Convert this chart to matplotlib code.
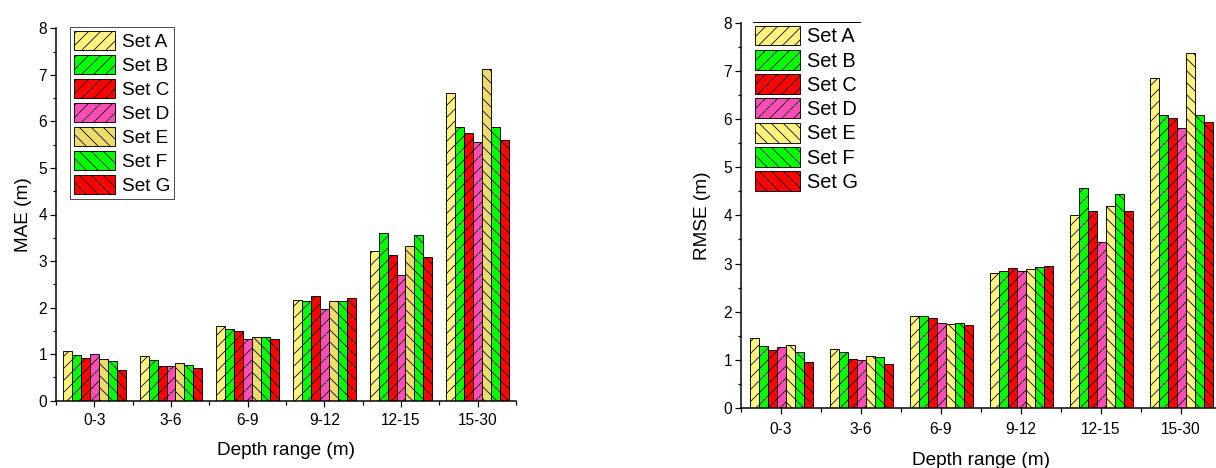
import matplotlib
matplotlib.use("Agg")
import matplotlib.pyplot as plt
import numpy as np
from matplotlib.lines import Line2D

plt.rcParams['font.family'] = ['Liberation Sans', 'DejaVu Sans']
plt.rcParams['hatch.linewidth'] = 0.8

categories = ["0-3", "3-6", "6-9", "9-12", "12-15", "15-30"]
set_names = ["Set A", "Set B", "Set C", "Set D", "Set E", "Set F", "Set G"]

mae = {
    "Set A": [1.06, 0.96, 1.60, 2.16, 3.22, 6.60],
    "Set B": [0.98, 0.87, 1.55, 2.14, 3.61, 5.88],
    "Set C": [0.92, 0.75, 1.50, 2.24, 3.12, 5.76],
    "Set D": [1.01, 0.74, 1.32, 1.98, 2.71, 5.55],
    "Set E": [0.90, 0.80, 1.37, 2.14, 3.33, 7.13],
    "Set F": [0.85, 0.77, 1.37, 2.14, 3.55, 5.87],
    "Set G": [0.67, 0.70, 1.33, 2.21, 3.09, 5.61],
}
rmse = {
    "Set A": [1.45, 1.22, 1.92, 2.81, 4.01, 6.86],
    "Set B": [1.29, 1.16, 1.90, 2.84, 4.57, 6.09],
    "Set C": [1.20, 1.01, 1.86, 2.90, 4.08, 6.02],
    "Set D": [1.27, 1.00, 1.77, 2.84, 3.45, 5.82],
    "Set E": [1.30, 1.07, 1.75, 2.88, 4.20, 7.38],
    "Set F": [1.17, 1.05, 1.77, 2.93, 4.44, 6.09],
    "Set G": [0.95, 0.92, 1.72, 2.95, 4.08, 5.94],
}

colors_left = ["#FFF37E", "#00FF00", "#FF0000", "#FF4DB8", "#EEDC6A", "#00FF00", "#FF0000"]
colors_right = ["#FFF37E", "#00FF00", "#FF0000", "#FF4DB8", "#FFF37E", "#00FF00", "#FF0000"]
hatches = ["//", "//", "//", "//", "\\\\", "\\\\", "\\\\"]

DPI = 72
fig = plt.figure(figsize=(1216 / DPI, 468 / DPI), dpi=DPI)

W, H = 1216, 468
def rect(x0, y_top, x1, y_bot):
    return [x0 / W, (H - y_bot) / H, (x1 - x0) / W, (y_bot - y_top) / H]

ax1 = fig.add_axes(rect(56, 28.3, 516, 400.7))
ax2 = fig.add_axes(rect(741, 22.7, 1221, 408))


def draw(ax, data, colors, ylabel, bw, legfs, handlelen, handleh, lspace, legx, tpad):
    x = np.arange(len(categories))
    n = len(set_names)
    for i, name in enumerate(set_names):
        off = (i - (n - 1) / 2) * bw
        ax.bar(x + off, data[name], width=bw, color=colors[i], edgecolor="black",
               linewidth=0.9, hatch=hatches[i], label=name, zorder=2)
    ax.set_xlim(-0.5, len(categories) - 0.5)
    ax.set_ylim(0, 8)
    ax.set_xticks(x)
    ax.set_xticklabels(categories, fontsize=15.5)
    ax.set_xticks(np.arange(-0.5, len(categories), 1.0), minor=True)
    ax.set_yticks(np.arange(0, 9, 1))
    ax.set_yticklabels([str(v) for v in range(9)], fontsize=15.5)
    ax.set_yticks(np.arange(0.5, 8, 1.0), minor=True)
    ax.tick_params(axis="both", which="major", direction="out", length=6, width=1.2, pad=3)
    ax.tick_params(axis="x", which="major", pad=tpad)
    ax.tick_params(axis="both", which="minor", direction="out", length=3.5, width=1.2)
    for s in ["top", "right"]:
        ax.spines[s].set_visible(False)
    for s in ["left", "bottom"]:
        ax.spines[s].set_linewidth(1.5)
    ax.set_ylabel(ylabel, fontsize=19)
    ax.set_xlabel("Depth range (m)", fontsize=19)
    leg = ax.legend(loc="upper left", bbox_to_anchor=(legx, 1.003), borderaxespad=0,
                    fontsize=legfs, handlelength=handlelen, handleheight=handleh,
                    labelspacing=lspace, handletextpad=0.35, borderpad=0.2,
                    fancybox=False, frameon=True)
    return leg


leg1 = draw(ax1, mae, colors_left, "MAE (m)", 0.117, 19, 2.2, 1.2, 0.2, 0.03, 6)
leg1.get_frame().set_edgecolor("#222222")
leg1.get_frame().set_linewidth(1.0)
ax1.xaxis.labelpad = 14
ax1.yaxis.labelpad = 6

leg2 = draw(ax2, rmse, colors_right, "RMSE (m)", 0.1125, 20, 2.25, 1.15, 0.18, 0.02, 8)
leg2.get_frame().set_visible(False)
ax2.xaxis.labelpad = 15
ax2.yaxis.labelpad = 12
fig.add_artist(Line2D([753 / W, 860 / W], [(H - 22) / H, (H - 22) / H],
                      color="black", linewidth=1.0, transform=fig.transFigure))

fig.savefig("out.png", dpi=DPI, facecolor="white")
